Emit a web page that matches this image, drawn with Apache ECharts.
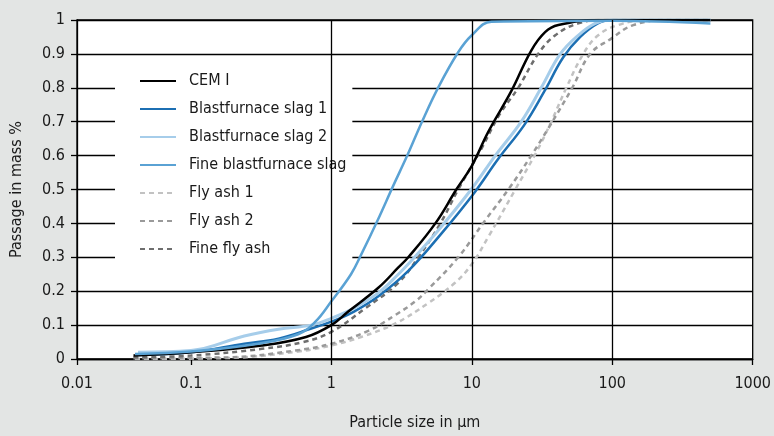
<!DOCTYPE html>
<html lang="en">
<head>
    <meta charset="UTF-8">
    <title>Particle size distribution</title>
    <style>
        html, body { margin: 0; padding: 0; background: #e3e5e4; }
        #chart { width: 774px; height: 436px; }
    </style>
</head>
<body>
    <div id="chart"></div>
    <script src="https://cdn.jsdelivr.net/npm/echarts@6/dist/echarts.min.js"></script>
    <script type="text/javascript">

        // particle size in µm / passage (fraction)
        var cemX = [0.039, 0.1, 0.32, 0.66, 1.0, 1.32, 2.16, 3.0, 3.53, 5.5, 7.76, 10, 13.1, 19.1, 26.5, 33.4, 41.3, 79, 500];
        var cemY = [0.01, 0.02, 0.04, 0.065, 0.10, 0.14, 0.21, 0.27, 0.30, 0.40, 0.50, 0.57, 0.67, 0.79, 0.91, 0.965, 0.985, 1.0, 1.0];

        var slag1X = [0.042, 0.1, 0.24, 0.42, 0.72, 1.0, 1.45, 2.16, 3.53, 6.07, 10.4, 15.4, 23.6, 32.9, 44.8, 59.2, 79, 100, 500];
        var slag1Y = [0.012, 0.02, 0.045, 0.06, 0.09, 0.11, 0.14, 0.185, 0.26, 0.37, 0.49, 0.59, 0.69, 0.79, 0.89, 0.95, 0.99, 1.0, 1.0];

        var slag2X = [0.042, 0.1, 0.24, 0.42, 0.72, 1.0, 1.45, 2.16, 3.0, 3.53, 5.78, 9.9, 14.7, 22.5, 31.2, 42.7, 57.3, 75.7, 96.8, 500];
        var slag2Y = [0.02, 0.025, 0.068, 0.088, 0.10, 0.12, 0.15, 0.195, 0.25, 0.28, 0.38, 0.50, 0.60, 0.70, 0.80, 0.90, 0.955, 0.99, 1.0, 1.0];

        var fineSlagX = [0.04, 0.1, 0.30, 0.58, 0.77, 1.0, 1.38, 1.64, 2.14, 2.75, 3.47, 4.42, 5.75, 8.0, 10, 13.8, 100, 500];
        var fineSlagY = [0.015, 0.022, 0.045, 0.073, 0.11, 0.17, 0.25, 0.31, 0.41, 0.51, 0.60, 0.70, 0.80, 0.905, 0.955, 0.995, 0.998, 0.99];

        var ash1X = [0.04, 0.185, 0.58, 1.0, 1.63, 2.86, 4.9, 7.6, 10, 13.1, 20.4, 28.8, 36.8, 47.1, 62.2, 79.4, 110, 180, 500];
        var ash1Y = [0.0, 0.003, 0.022, 0.04, 0.065, 0.105, 0.165, 0.225, 0.28, 0.36, 0.50, 0.61, 0.70, 0.80, 0.90, 0.955, 0.985, 1.0, 1.0];

        var ash2X = [0.039, 0.185, 0.555, 1.0, 1.83, 2.86, 3.96, 4.9, 8.0, 12.5, 18.2, 26.5, 35, 51.9, 69.7, 98.4, 141, 251, 500];
        var ash2Y = [0.002, 0.005, 0.025, 0.045, 0.083, 0.13, 0.17, 0.206, 0.30, 0.41, 0.50, 0.60, 0.68, 0.80, 0.90, 0.945, 0.985, 1.0, 1.0];

        var fineAshX = [0.039, 0.1, 0.32, 0.63, 1.0, 1.75, 3.0, 4.16, 5.97, 8.0, 11.7, 15.7, 21.4, 29.7, 39.3, 57.3, 86, 500];
        var fineAshY = [0.005, 0.01, 0.03, 0.05, 0.08, 0.15, 0.225, 0.30, 0.40, 0.50, 0.62, 0.72, 0.80, 0.90, 0.955, 0.99, 1.0, 1.0];

        var legendNames = ['CEM I', 'Blastfurnace slag 1', 'Blastfurnace slag 2', 'Fine blastfurnace slag', 'Fly ash 1', 'Fly ash 2', 'Fine fly ash'];
        var gridLinesX = [1, 10, 100];

        var font = '"Liberation Sans Narrow", "DejaVu Sans Condensed", sans-serif';
        var textColor = '#1a1a1a';

        function zip(xs, ys) {
            var out = [];
            for (var i = 0; i < xs.length; i++) out.push([xs[i], ys[i]]);
            return out;
        }

        function line(name, xs, ys, color, width, dashed) {
            return {
                name: name,
                type: 'line',
                z: 3,
                data: zip(xs, ys),
                showSymbol: false,
                symbol: 'none',
                smooth: 0.4,
                lineStyle: { color: color, width: width, type: dashed ? [5, 4] : 'solid' },
                itemStyle: { color: color },
                emphasis: { disabled: true }
            };
        }

        var chart = echarts.init(document.getElementById('chart'));

        option = {
            backgroundColor: '#e3e5e4',
            animation: false,
            textStyle: { fontFamily: font },
            grid: {
                left: 77, right: 17, top: 20, bottom: 76,
                show: true,
                backgroundColor: '#ffffff',
                borderColor: '#000',
                borderWidth: 1.3
            },
            legend: {
                data: legendNames,
                z: 2,
                orient: 'vertical',
                left: 115,
                top: 62,
                padding: [11, 6, 16, 24],
                itemGap: 12,
                itemWidth: 36,
                itemHeight: 14,
                backgroundColor: '#ffffff',
                itemStyle: { opacity: 0 },
                textStyle: { fontFamily: font, fontSize: 16, color: textColor, padding: [0, 0, 0, 8] }
            },
            xAxis: {
                type: 'log',
                logBase: 10,
                min: 0.01545,
                max: 1000,
                name: 'Particle size in µm',
                nameLocation: 'middle',
                nameGap: 56,
                nameTextStyle: { fontFamily: font, fontSize: 16, color: textColor },
                axisLine: { lineStyle: { color: '#000', width: 1.3 } },
                axisTick: { show: true, length: 6, lineStyle: { color: '#000', width: 1.3 } },
                axisLabel: {
                    fontFamily: font, fontSize: 16, color: textColor, margin: 17,
                    formatter: function (v) { return v < 0.05 ? '0.01' : String(v); }
                },
                splitLine: { show: false },
                minorTick: { show: false },
                minorSplitLine: { show: false }
            },
            yAxis: {
                type: 'value',
                min: 0,
                max: 1,
                interval: 0.1,
                name: 'Passage in mass %',
                nameLocation: 'middle',
                nameGap: 52,
                nameTextStyle: { fontFamily: font, fontSize: 16, color: textColor },
                axisLine: { show: true, lineStyle: { color: '#000', width: 1.3 } },
                axisTick: { show: true, length: 6, lineStyle: { color: '#000', width: 1.3 } },
                axisLabel: { fontFamily: font, fontSize: 16, color: textColor, margin: 12 },
                splitLine: { show: true, lineStyle: { color: '#000', width: 1.3 } }
            },
            series: [
                {
                    // vertical grid lines at 1, 10 and 100 µm, kept below the legend box
                    type: 'line',
                    z: 1,
                    data: [],
                    silent: true,
                    markLine: {
                        silent: true,
                        symbol: 'none',
                        label: { show: false },
                        lineStyle: { color: '#000', width: 1.3, type: 'solid' },
                        data: gridLinesX.map(function (v) { return { xAxis: v }; })
                    }
                },
                line('Fly ash 1', ash1X, ash1Y, '#c2c2c2', 2.5, true),
                line('Fly ash 2', ash2X, ash2Y, '#9a9a9a', 2.5, true),
                line('Fine fly ash', fineAshX, fineAshY, '#6e6e6e', 2.5, true),
                line('Blastfurnace slag 1', slag1X, slag1Y, '#1c6fb3', 2.5, false),
                line('Blastfurnace slag 2', slag2X, slag2Y, '#a6cdea', 3, false),
                line('CEM I', cemX, cemY, '#000000', 2.5, false),
                line('Fine blastfurnace slag', fineSlagX, fineSlagY, '#5aa2d4', 2.5, false)
            ]
        };

        chart.setOption(option);

    </script>
</body>
</html>
